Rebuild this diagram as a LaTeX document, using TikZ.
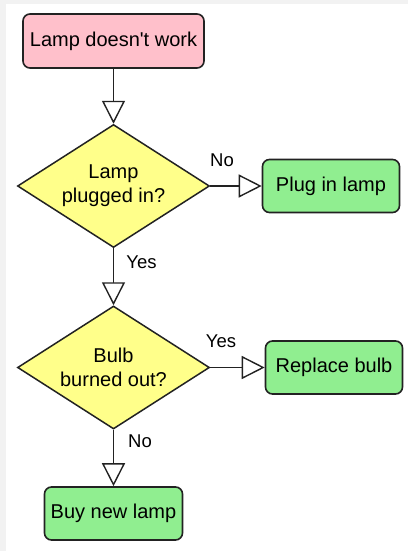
\documentclass[tikz,border=0pt]{standalone}
\usepackage{fontspec}
\setmainfont{Liberation Sans}[Ligatures=TeXOff]
\usetikzlibrary{shapes.geometric,arrows.meta}

\definecolor{startpink}{RGB}{255,192,203}
\definecolor{actiongreen}{RGB}{144,238,144}
\definecolor{decisionyellow}{RGB}{255,255,138}
\definecolor{edgegray}{RGB}{34,34,34}
\definecolor{framegray}{RGB}{242,242,242}

\tikzset{
  every node/.style={text=black},
  boxbase/.style={draw=edgegray, line width=1.6pt, rounded corners=7pt,
    inner sep=2pt, font=\fontsize{20}{24}\selectfont},
  startbox/.style={boxbase, fill=startpink, minimum width=181pt, minimum height=54pt},
  actbox/.style={boxbase, fill=actiongreen, minimum width=137pt, minimum height=53pt},
  decision/.style={diamond, aspect=1.55, draw=edgegray, line width=1.5pt,
    fill=decisionyellow, inner sep=0pt, minimum width=192pt, minimum height=123pt,
    align=center, font=\fontsize{20}{24}\selectfont},
  flow/.style={draw=edgegray, line width=1.6pt,
    -{Triangle[length=23pt, width=23pt, fill=white, line width=1.4pt]}},
  branch/.style={font=\fontsize{18.5}{22}\selectfont, inner sep=0pt}
}

\begin{document}
\begin{tikzpicture}[x=1pt, y=-1pt]
  % page and the thin grey frame strips along the top and left
  \fill[white] (0,0) rectangle (408,551);
  \fill[framegray] (0,0) rectangle (408,4);
  \fill[framegray] (0,0) rectangle (6,551);
  \useasboundingbox (0,0) rectangle (408,551);

  % nodes
  \node[startbox] (start) at (113.5,41) {Lamp doesn't work};
  \node[decision] (plugged) at (113.5,186) {Lamp\\plugged in?};
  \node[actbox] (plugin) at (331,186) {Plug in lamp};
  \node[decision] (burned) at (113.5,367.5) {Bulb\\burned out?};
  \node[actbox] (replace) at (334,367.5) {Replace bulb};
  \node[actbox, minimum width=138pt] (buynew) at (113.5,513.5) {Buy new lamp};

  % connectors
  \draw[flow] (start.south) -- (plugged.north);
  \draw[flow] (plugged.east) -- (plugin.west);
  \draw[flow] (plugged.south) -- (burned.north);
  \draw[flow] (burned.east) -- (replace.west);
  \draw[flow] (burned.south) -- (buynew.north);

  % branch labels
  \node[branch] (lblno1) at (222,160) {No};
  \node[branch] (lblyes1) at (141.5,262) {Yes};
  \node[branch] (lblyes2) at (221,341.5) {Yes};
  \node[branch] (lblno2) at (140,441.5) {No};
\end{tikzpicture}
\end{document}
